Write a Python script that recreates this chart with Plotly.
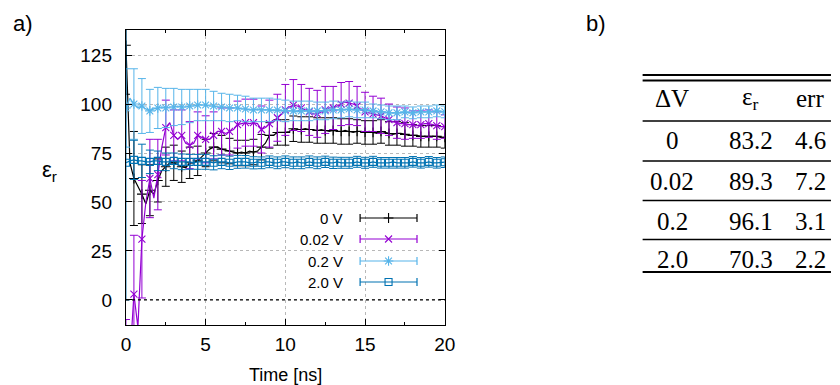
import numpy as np
import plotly.graph_objects as go

# ---------------- data ----------------
time_ns = [round(0.25 * i, 2) for i in range(81)]          # line samples
labels = ["0 V", "0.02 V", "0.2 V", "2.0 V"]

eps_0V = [130, 70, 62, 58, 54, 49, 56, 54, 61, 66,
          68, 70, 70, 69, 68, 67.5, 70, 70, 71, 73,
          75, 77, 78, 78, 77, 76.5, 76, 75.5, 75, 75.5,
          75, 76, 75.5, 76, 78, 80, 84, 84, 85.5, 85.5,
          85.5, 86, 87.4, 87, 87, 87.5, 87, 87, 86.5, 87,
          86.5, 86, 86.5, 86, 86, 86.5, 86, 85.5, 86, 86,
          85.5, 86, 85.5, 85, 86, 85.5, 85, 84.5, 85, 85,
          84.5, 84, 84, 84, 83.5, 83.5, 83.5, 83.5, 83.5, 83, 83]

eps_002V = [-40, -30, 3, -14, 31, 50, 62, 52, 64, 78,
            88, 90.5, 84, 82, 84, 80, 79, 80, 84, 83,
            82, 82, 84, 86, 86, 85, 86, 87, 89.5, 90,
            90.5, 90, 90.5, 90, 87, 88, 90, 91, 93, 95,
            97, 98.5, 99.5, 99, 98, 97, 96, 95, 95, 96,
            97, 98, 98, 99, 100, 101, 100.5, 100, 99, 97,
            96, 95.5, 95, 94.5, 94, 93, 92, 91, 90.5, 90,
            90, 89.5, 89.5, 89, 89.5, 90, 90, 89.5, 89, 88.5, 88.5]

eps_02V = [98, 103, 100, 98, 99, 97.5, 96.5, 97.5, 98, 98.5,
           98, 98.5, 98.5, 99, 98.5, 98.5, 99, 99, 99.5, 99.5,
           99.5, 99, 99, 98.5, 98.5, 98.5, 98, 98, 98, 97.5,
           97.5, 97, 97, 97.5, 97, 97, 97, 96.5, 97, 96.5,
           96.5, 96.5, 96.5, 96, 96.5, 96.5, 96.5, 96, 96.5, 96.5,
           96.5, 97, 97, 97, 97, 97, 97.5, 97, 97, 97,
           97, 96.5, 96.5, 96, 96, 96, 95.5, 95.5, 95.5, 95.5,
           96, 95.5, 95.5, 96, 96, 96, 96, 96, 96.5, 96, 96]

eps_20V = [70, 71, 71.5, 71, 71, 70.5, 70.5, 71, 71, 70.5,
           70.5, 70.5, 71, 70.5, 70.5, 70.5, 70.5, 70, 70.5, 70.5,
           70.5, 70.5, 70, 70.5, 70.5, 70.5, 70, 70, 70.5, 70.5,
           70.5, 70, 70, 70.5, 70, 70.5, 70.5, 70, 70, 70.5,
           70.5, 70, 70, 70.5, 70, 70, 70.5, 70, 70, 70,
           70.5, 70, 70, 70.5, 70, 70, 70, 70, 70.5, 70,
           70, 70, 70.5, 70, 70, 70, 70, 70.5, 70, 70,
           70, 70, 70.5, 70, 70, 70, 70.5, 70, 70, 70, 70.3]

# error bars every 0.5 ns (every second line sample)
err_0V = [25, 24, 15, 13, 11, 10, 9, 8, 8, 7.5,
          7, 7, 7, 6.5, 6.5, 6.5, 6.5, 6.5, 6.5, 6.5,
          6.5, 6.5, 6.5, 6.5, 6.5, 6.5, 6.5, 6.5, 6.5, 6,
          6, 6, 6, 6, 6, 6, 5.5, 5.5, 5.5, 5.5, 5.5]
err_002V = [30, 30, 30, 20, 18, 14, 13, 13, 12, 12,
            12, 12, 12, 12, 12, 12, 12, 12, 12, 12,
            13, 13, 12, 12, 12, 12, 11, 11, 11, 10,
            10, 9, 9, 8, 8, 8, 7, 7, 7, 7, 6]
err_02V = [20, 18, 14, 11, 10.5, 10, 9.5, 9, 8.5, 8,
           8, 7.5, 7, 7, 6.5, 6.5, 6, 6, 6, 5.5,
           5.5, 5, 5, 5, 4.5, 4.5, 4.5, 4, 4, 4,
           4, 3.5, 3.5, 3.5, 3.5, 3, 3, 3, 3, 3, 3]
err_20V = [70, 10, 8.5, 6, 5, 4.5, 4, 4, 3.8, 3.8,
           3.8, 3.6, 3.5, 3.4, 3.3, 3.2, 3.1, 3, 3, 3,
           3, 3, 3, 3, 3, 2.9, 2.9, 2.8, 2.8, 2.8,
           2.8, 2.8, 2.7, 2.7, 2.7, 2.7, 2.7, 2.7, 2.7, 2.7, 2.7]

# table (panel b)
tab_dV = ["0", "0.02", "0.2", "2.0"]
tab_eps = ["83.2", "89.3", "96.1", "70.3"]
tab_err = ["4.6", "7.2", "3.1", "2.2"]

series = [
    (labels[0], eps_0V, err_0V, "#000000", "cross-thin-open", 7),
    (labels[1], eps_002V, err_002V, "#9400D3", "x-thin-open", 7),
    (labels[2], eps_02V, err_02V, "#56B4E9", "asterisk-open", 8),
    (labels[3], eps_20V, err_20V, "#0072B2", "square-open", 7),
]

W, H = 840, 385
def px(x):
    return x / W
def py(y):
    return 1 - y / H

def note(fig, x, y, text, font, xanchor="center"):
    fig.add_annotation(x=px(x), y=py(y), xref="paper", yref="paper", text=text,
                       showarrow=False, xanchor=xanchor, yanchor="middle", font=font)

fig = go.Figure()

for name, vals, errs, col, sym, msz in series:
    fig.add_trace(go.Scatter(
        x=time_ns, y=vals, mode="lines", line=dict(color=col, width=1.2),
        showlegend=False, hoverinfo="skip", xaxis="x", yaxis="y"))
    fig.add_trace(go.Scatter(
        x=time_ns[::2], y=vals[::2], mode="markers",
        marker=dict(symbol=sym, size=msz, color=col, line=dict(color=col, width=1.1)),
        error_y=dict(type="data", array=errs, visible=True, color=col,
                     thickness=1, width=4),
        showlegend=False, name=name, xaxis="x", yaxis="y"))

# custom gnuplot-style key (text right-aligned, sample with error bar)
key_font = dict(family="Liberation Sans", size=15, color="#000")
key_rows_y = [218, 239, 261, 282]
for (name, vals, errs, col, sym, msz), ry in zip(series, key_rows_y):
    fig.add_trace(go.Scatter(
        x=[391], y=[ry], mode="markers",
        marker=dict(symbol=sym, size=msz, color=col, line=dict(color=col, width=1.1)),
        error_x=dict(type="data", array=[29], visible=True, color=col,
                     thickness=1.2, width=4),
        showlegend=False, hoverinfo="skip", xaxis="x2", yaxis="y2"))
    note(fig, 347, ry, name, key_font, xanchor="right")

axis_font = dict(family="Liberation Sans", size=19, color="#000")
fig.update_layout(
    width=W, height=H, autosize=False,
    margin=dict(l=0, r=0, t=0, b=0),
    paper_bgcolor="white", plot_bgcolor="rgba(0,0,0,0)",
    font=axis_font,
    xaxis=dict(domain=[123.3 / W, 448.3 / W], range=[0, 20], tickvals=[0, 5, 10, 15, 20],
               ticks="inside", ticklen=6, tickcolor="#000", mirror="allticks",
               showline=True, linecolor="#000", linewidth=1.3,
               showgrid=True, gridcolor="#b8b8b8", griddash="dot", gridwidth=1,
               zeroline=False, tickfont=axis_font, ticklabelstandoff=2,
               minor=dict(ticks="inside", ticklen=3, dtick=2.5, tick0=0, tickcolor="#000",
                          showgrid=False),
               anchor="y"),
    yaxis=dict(domain=[1 - 325 / H, 1 - 30 / H], range=[-12.8, 137.8],
               tickvals=[0, 25, 50, 75, 100, 125],
               ticks="inside", ticklen=6, tickcolor="#000", mirror="allticks",
               showline=True, linecolor="#000", linewidth=1.3,
               showgrid=True, gridcolor="#b8b8b8", griddash="dot", gridwidth=1,
               zeroline=False, tickfont=axis_font, ticklabelstandoff=9,
               anchor="x"),
    xaxis2=dict(domain=[0, 1], range=[0, W], visible=False, anchor="y2", fixedrange=True),
    yaxis2=dict(domain=[0, 1], range=[H, 0], visible=False, anchor="x2", fixedrange=True),
)

# zero line (gnuplot zeroaxis)
fig.add_shape(type="line", xref="x domain", x0=0, x1=1, yref="y", y0=0, y1=0,
              line=dict(color="#000", width=1.3, dash="dot"))

# axis titles & panel labels
sans = lambda s: dict(family="Liberation Sans", size=s, color="#000")
note(fig, 286, 375, "Time [ns]", sans(18))
note(fig, 45, 171, "ε<sub>r</sub>", sans(22))
note(fig, 6, 23, "a)", sans(22), xanchor="left")
note(fig, 590, 23, "b)", sans(22), xanchor="left")

# table (panel b)
serif = dict(family="Liberation Serif", size=25, color="#000")
col_x = [680, 760, 821]
header_y = 99
row_y = [140, 181, 221, 259]
for txt, cx in zip(["ΔV", "ε<sub>r</sub>", "err"], col_x):
    note(fig, cx, header_y, txt, serif)
for i, ry in enumerate(row_y):
    for txt, cx in zip([tab_dV[i], tab_eps[i], tab_err[i]], col_x):
        note(fig, cx, ry, txt, serif)
rules = [(75, 1.8), (80.5, 1.8), (121, 1.5), (161, 1.5), (200.5, 1.5), (239.5, 1.5), (272, 1.8)]
for ry, lw in rules:
    fig.add_shape(type="line", xref="paper", yref="paper", x0=px(650), x1=px(842),
                  y0=py(ry), y1=py(ry), line=dict(color="#000", width=lw))

fig.write_html("out.html", config={"displayModeBar": False},
               post_script="document.body.style.margin='0';document.body.style.overflow='hidden';")
